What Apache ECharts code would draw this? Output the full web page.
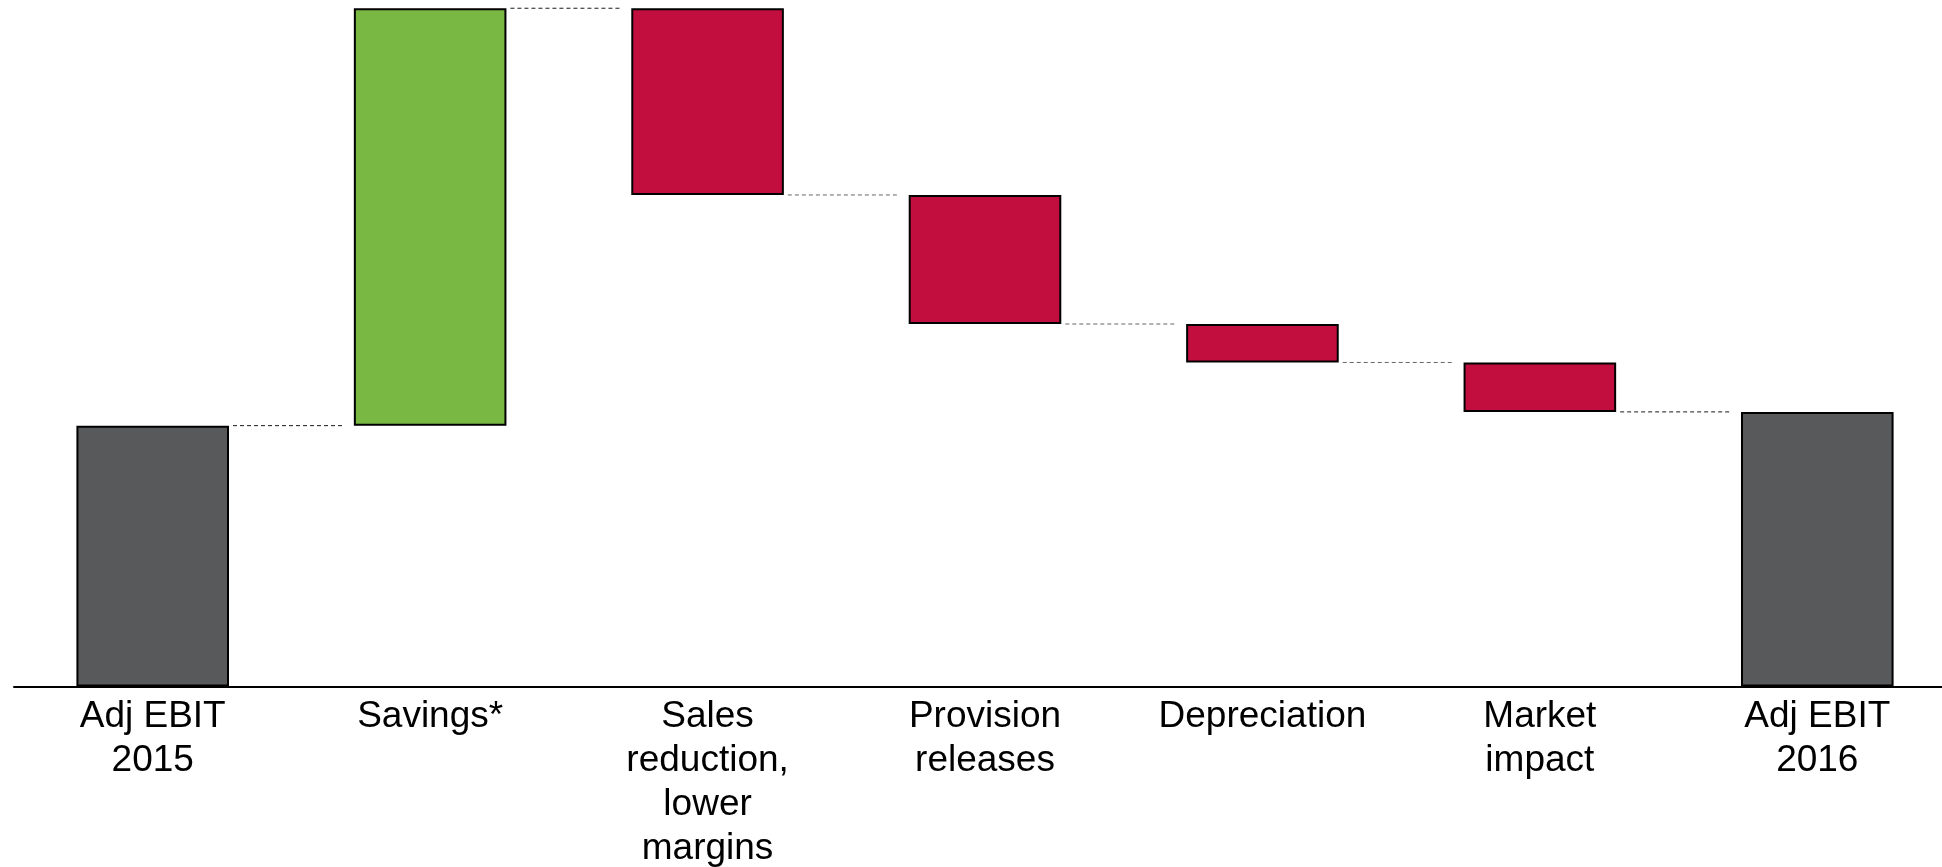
<!DOCTYPE html>
<html>
<head>
<meta charset="utf-8">
<script src="https://cdn.jsdelivr.net/npm/echarts@6/dist/echarts.min.js"></script>
<style>
  html, body { margin: 0; padding: 0; background: #ffffff; overflow: hidden; width: 1942px; height: 867px; }
  #wrap { width: 1942px; height: 867px; overflow: hidden; position: relative; }
  #chart { width: 1956px; height: 867px; position: absolute; left: 0; top: 0; }
</style>
</head>
<body>
<div id="wrap"><div id="chart"></div></div>
<script>
// ---- data ----
const categories = ['Adj EBIT\n2015', 'Savings*', 'Sales\nreduction,\nlower\nmargins', 'Provision\nreleases', 'Depreciation', 'Market\nimpact', 'Adj EBIT\n2016'];
const changes = [38.0, 60.8, -27.2, -18.8, -5.6, -7.2, 40.0];
const kinds = ['total', 'delta', 'delta', 'delta', 'delta', 'delta', 'total'];

// ---- derived waterfall arrays ----
const baseVals = [];
const barVals = [];
const levels = [];
let running = 0;
changes.forEach((v, i) => {
  if (kinds[i] === 'total') {
    baseVals.push(0);
    barVals.push(v);
    running = v;
  } else if (v >= 0) {
    baseVals.push(running);
    barVals.push(v);
    running += v;
  } else {
    baseVals.push(running + v);
    barVals.push(-v);
    running += v;
  }
  levels.push(running);
});
const connectorData = levels.slice(0, levels.length - 1).map((lv, i) => [i, lv]);

const colorTotal = '#58595B';
const colorUp = '#78B843';
const colorDown = '#C20E3F';
const connectorColors = ['#1a1a1a', '#1a1a1a', '#666666', '#666666', '#666666', '#1a1a1a'];
const barFrac = 0.55;

const chart = echarts.init(document.getElementById('chart'), null, { renderer: 'canvas' });
chart.setOption({
  animation: false,
  backgroundColor: '#ffffff',
  grid: { left: 14, top: 0, right: 0, height: 686.5, containLabel: false, outerBoundsMode: 'none' },
  xAxis: {
    type: 'category',
    data: categories,
    axisLine: { show: true, lineStyle: { color: '#000000', width: 2 } },
    axisTick: { show: false },
    splitLine: { show: false },
    axisLabel: {
      interval: 0,
      color: '#000000',
      fontFamily: 'Liberation Sans, Arial, sans-serif',
      fontSize: 37,
      lineHeight: 44,
      margin: 8
    }
  },
  yAxis: {
    type: 'value',
    min: 0,
    max: 100,
    show: false,
    splitLine: { show: false }
  },
  series: [
    {
      name: 'base',
      type: 'bar',
      stack: 'wf',
      barWidth: (barFrac * 100) + '%',
      data: baseVals,
      itemStyle: { color: 'rgba(0,0,0,0)', borderWidth: 0 },
      silent: true
    },
    {
      name: 'value',
      type: 'bar',
      stack: 'wf',
      barWidth: (barFrac * 100) + '%',
      data: barVals.map((v, i) => ({
        value: v,
        itemStyle: {
          color: kinds[i] === 'total' ? colorTotal : (changes[i] >= 0 ? colorUp : colorDown)
        }
      })),
      itemStyle: { borderColor: '#000000', borderWidth: 2 }
    },
    {
      name: 'connectors',
      type: 'custom',
      data: connectorData,
      encode: { x: 0, y: 1 },
      z: 5,
      silent: true,
      renderItem: function (params, api) {
        const i = api.value(0);
        const lv = api.value(1);
        const p0 = api.coord([i, lv]);
        const p1 = api.coord([i + 1, lv]);
        const band = api.size([1, 0])[0];
        const half = band * barFrac / 2;
        return {
          type: 'line',
          shape: { x1: p0[0] + half + 4, y1: p0[1], x2: p1[0] - half - 9, y2: p1[1] },
          style: {
            stroke: connectorColors[params.dataIndex],
            lineWidth: 1,
            lineDash: [4, 3]
          }
        };
      }
    }
  ]
});
</script>
</body>
</html>
